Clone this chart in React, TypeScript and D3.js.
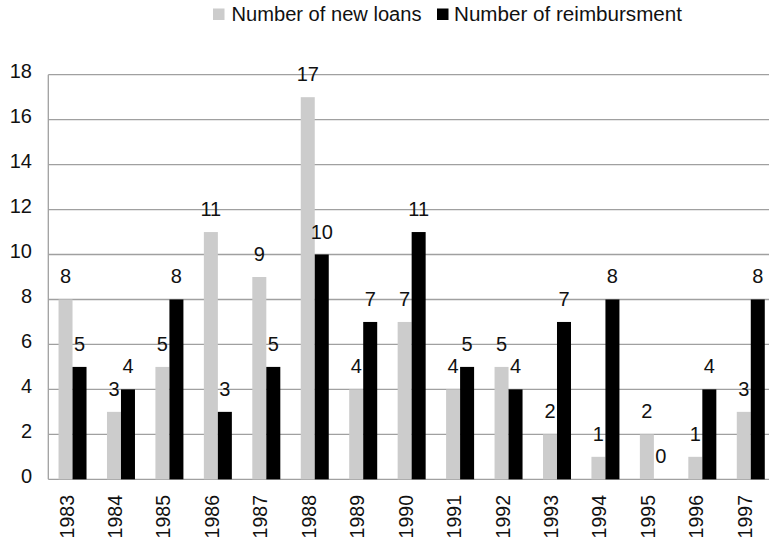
import React from "react";
import * as d3 from "d3";

const years = ["1983","1984","1985","1986","1987","1988","1989","1990","1991","1992","1993","1994","1995","1996","1997"];
const newLoans = [8,3,5,11,9,17,4,7,4,5,2,1,2,1,3];
const reimbursements = [5,4,8,3,5,10,7,11,5,4,7,8,0,4,8];
const seriesNames = ["Number of new loans", "Number of reimbursment"];
const seriesColors = ["#cccccc", "#000000"];
const yTicks = [0,2,4,6,8,10,12,14,16,18];

const W = 769, H = 539;
const FONT = "'Liberation Sans', Arial, Helvetica, sans-serif";

export default function App() {
  const left = 48.3, right = 775, top = 74.7, bottom = 479.3;
  const x0 = d3.scaleBand<string>().domain(years).range([left, right]).paddingInner(0.422).paddingOuter(0.211);
  const x1 = d3.scaleBand<string>().domain(seriesNames).range([0, x0.bandwidth()]);
  const y = d3.scaleLinear().domain([0, 18]).range([bottom, top]);
  const series = [newLoans, reimbursements];

  return (
    <svg width={W} height={H} style={{ position: "absolute", left: 0, top: 0, background: "#fff" }} fontFamily={FONT}>
      {/* legend */}
      <g>
        <rect x={213} y={8.5} width={11.5} height={11.5} fill={seriesColors[0]} />
        <text x={231.5} y={21} fontSize={19.5} textLength={190} lengthAdjust="spacingAndGlyphs" fill="#111">{seriesNames[0]}</text>
        <rect x={437} y={8.5} width={11.5} height={11.5} fill={seriesColors[1]} />
        <text x={454} y={21} fontSize={19.5} textLength={228} lengthAdjust="spacingAndGlyphs" fill="#111">{seriesNames[1]}</text>
      </g>
      {/* gridlines */}
      {yTicks.map((t) => (
        <line key={"g" + t} x1={left} x2={W} y1={y(t)} y2={y(t)} stroke="#a0a0a0" strokeWidth={1.3} />
      ))}
      <line x1={left} x2={left} y1={top} y2={bottom} stroke="#a0a0a0" strokeWidth={1.3} />
      {/* y tick labels */}
      {yTicks.map((t) => (
        <text key={"t" + t} x={32} y={y(t) + 3.5} textAnchor="end" fontSize={20} fill="#111">{t}</text>
      ))}
      {/* bars */}
      {years.map((yr, i) => (
        <g key={yr}>
          {series.map((s, j) => {
            const bx = (x0(yr) as number) + (x1(seriesNames[j]) as number);
            const bw = x1.bandwidth();
            return (
              <g key={j}>
                <rect x={bx} y={y(s[i])} width={bw} height={bottom - y(s[i])} fill={seriesColors[j]} />
                <text x={bx + bw / 2} y={y(s[i]) - 16} textAnchor="middle" fontSize={20} fill="#111">{s[i]}</text>
              </g>
            );
          })}
          <text
            transform={`translate(${(x0(yr) as number) + x0.bandwidth() / 2 + 1},495) rotate(-90)`}
            textAnchor="end"
            fontSize={19.5}
            fill="#111"
          >{yr}</text>
        </g>
      ))}
    </svg>
  );
}
